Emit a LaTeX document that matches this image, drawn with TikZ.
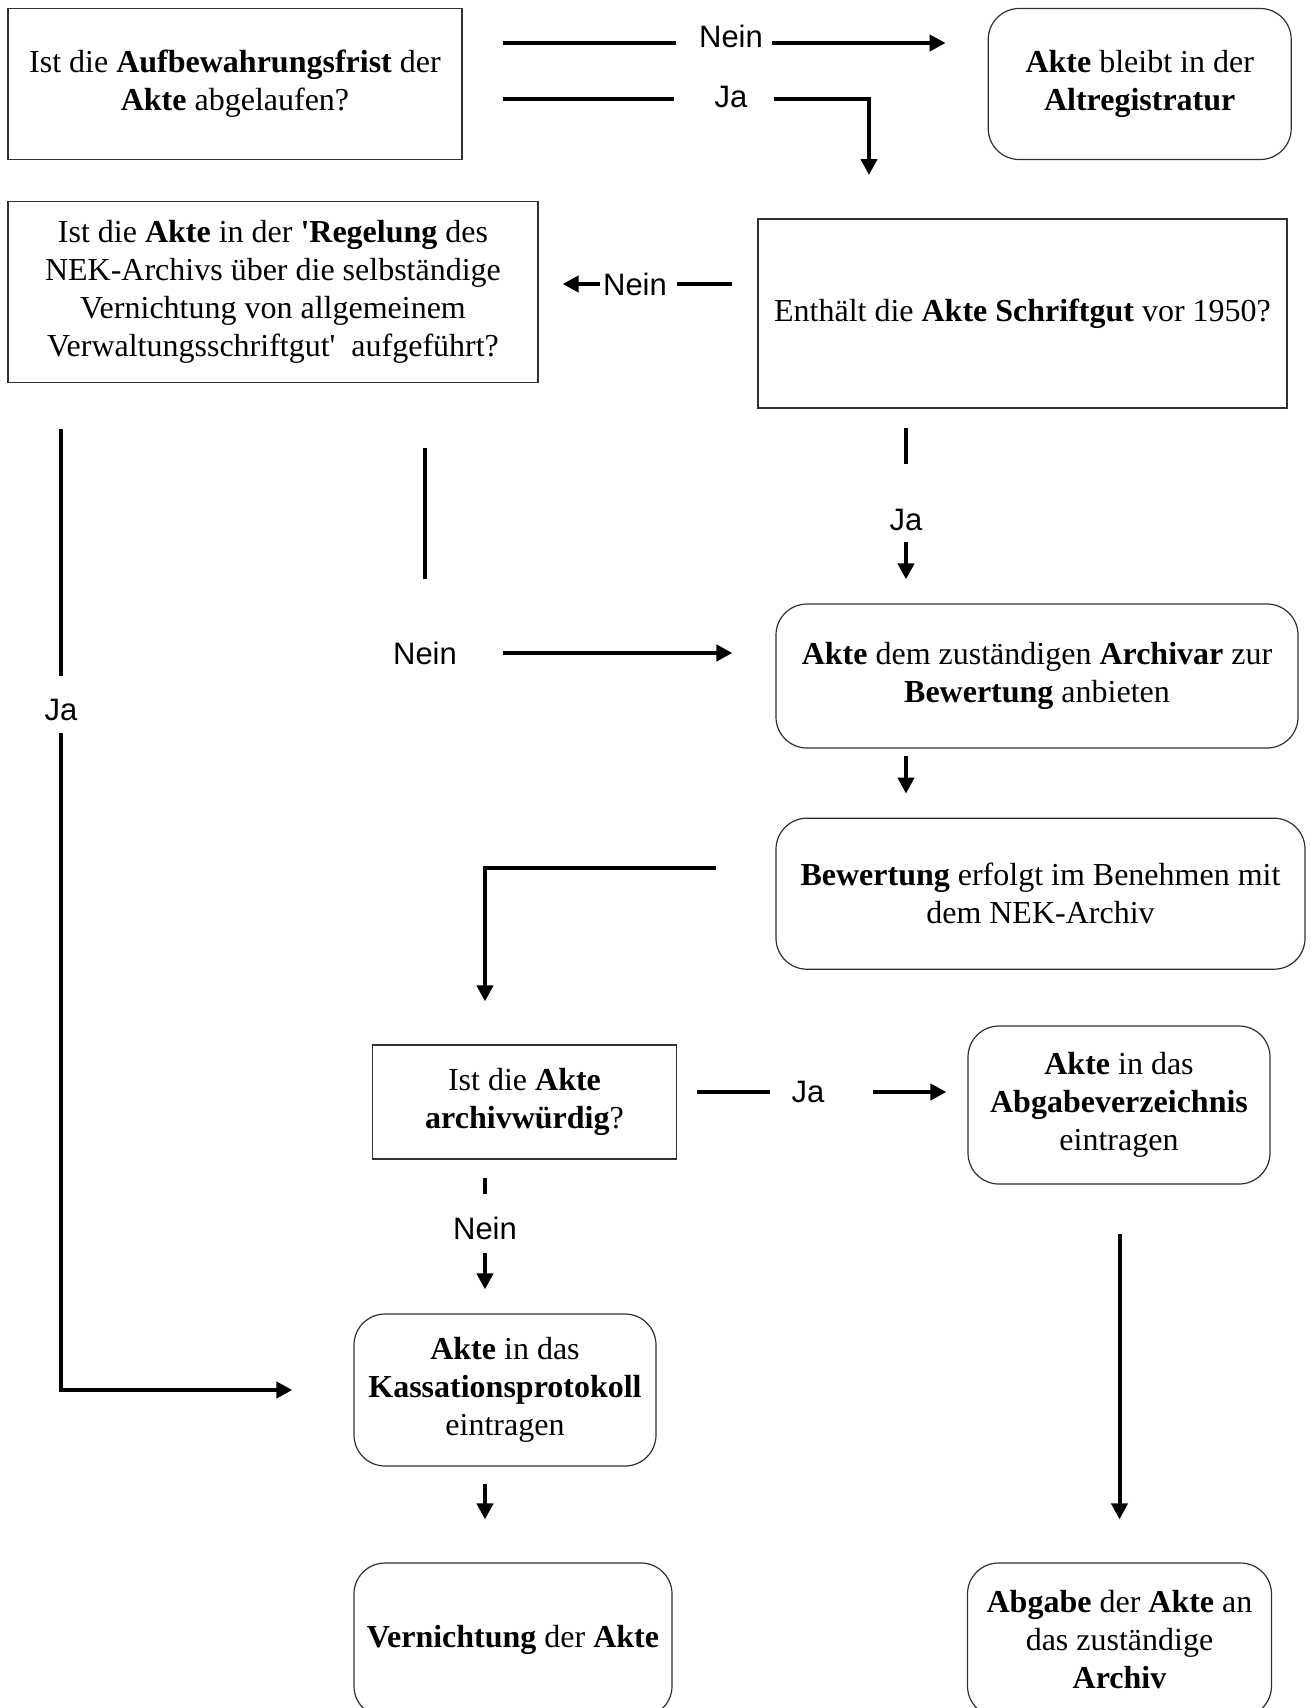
\documentclass[tikz,border=0pt]{standalone}
\usepackage{fontspec}
\setmainfont{Liberation Serif}
\setsansfont{Liberation Sans}
\usepackage{tikz}
\usetikzlibrary{arrows.meta,positioning}
\definecolor{cInk}{HTML}{000000}
\definecolor{cEdge}{HTML}{303030}
\tikzset{
  box/.style  = {draw=cEdge, line width=1.2pt, align=center, inner sep=0pt,
                 font=\fontsize{32}{38}\selectfont},
  ask/.style  = {box},
  act/.style  = {box, rounded corners=31pt},
  yn/.style   = {font=\sffamily\fontsize{31}{36}\selectfont, inner sep=0pt},
  wire/.style = {draw=cInk, line width=4pt},
  flow/.style = {wire, -{Triangle[length=16pt,width=16pt]}},
}

\begin{document}
\begin{tikzpicture}[x=1pt, y=-1pt]
  \path[use as bounding box, fill=white] (0,0) rectangle (1313,1708);
  \clip (0,0) rectangle (1313,1708);
  % ---- top row ----
  \node[ask, minimum width=454pt, minimum height=151pt] (q1) at (235,84)
    {Ist die \textbf{Aufbewahrungsfrist} der\\ \textbf{Akte} abgelaufen?};
  \node[act, right=525pt of q1, minimum width=303pt, minimum height=151pt] (alt)
    {\textbf{Akte} bleibt in der\\ \textbf{Altregistratur}};
  \node[yn] (nein1) at (731,36) {Nein};
  \node[yn] (ja1) at (731,96.5) {Ja};
  \coordinate (c1) at (503,43);
  \coordinate (c2) at (503,99);
  \coordinate (c3) at (869,175);
  \draw[wire, shorten >=23pt] (c1) -- (c1 -| nein1.west);
  \draw[flow, shorten <=9pt, shorten >=42pt] (nein1.east |- c1) -- (alt.west |- c1);
  \draw[wire, shorten >=40pt] (c2) -- (c2 -| ja1.west);
  \draw[flow, shorten <=26pt] (ja1.east |- c2) -| (c3);
  % ---- second row ----
  \node[ask, below=41pt of q1.south west, anchor=north west,
        minimum width=530pt, minimum height=181pt] (q2)
    {Ist die \textbf{Akte} in der \textbf{\textquotesingle Regelung} des\\
     NEK-Archivs über die selbständige\\ Vernichtung von allgemeinem\\
     Verwaltungsschriftgut\textquotesingle\ \ aufgeführt?};
  \node[ask, minimum width=529pt, minimum height=189pt] (q3) at (1022.5,313.5)
    {Enthält die \textbf{Akte Schriftgut} vor 1950?};
  \node[yn] (nein2) at (635,284) {Nein};
  \draw[wire, shorten <=25pt, shorten >=10pt] (q3.west |- nein2) -- (nein2.east);
  \draw[flow, shorten <=3pt, shorten >=24pt] (nein2.west) -- (q2.east |- nein2);
  % ---- right column ----
  \node[act, minimum width=522pt, minimum height=144pt] (arch) at (1037,676)
    {\textbf{Akte} dem zuständigen \textbf{Archivar} zur\\ \textbf{Bewertung} anbieten};
  \node[act, below=69pt of arch.south west, anchor=north west,
        minimum width=529pt, minimum height=151pt] (bew)
    {\textbf{Bewertung} erfolgt im Benehmen mit\\ dem NEK-Archiv};
  \node[yn] (ja3) at (906,520) {Ja};
  \draw[wire, shorten <=19pt, shorten >=45pt] (q3.south -| ja3) -- (ja3.north);
  \draw[flow, shorten <=11pt, shorten >=24pt] (ja3.south) -- (arch.north -| ja3);
  \draw[flow, shorten <=7pt, shorten >=24pt] (arch.south -| ja3) -- (bew.north -| ja3);
  % ---- left branches ----
  \node[yn] (ja2) at (61,710) {Ja};
  \node[yn] (nein3) at (425,653) {Nein};
  \draw[wire, shorten <=65pt, shorten >=62pt] (q2.south -| nein3) -- (nein3.north);
  \draw[flow, shorten <=46pt, shorten >=43pt] (nein3.east) -- (arch.west |- nein3);
  % ---- lower part ----
  \node[ask, minimum width=304pt, minimum height=114pt] (q4) at (524.5,1102)
    {Ist die \textbf{Akte}\\ \textbf{archivwürdig}?};
  \node[act, minimum width=302pt, minimum height=158pt] (abgv) at (1119,1105)
    {\textbf{Akte} in das\\ \textbf{Abgabeverzeichnis}\\ eintragen};
  \node[act, minimum width=302pt, minimum height=152pt] (kass) at (505,1390)
    {\textbf{Akte} in das\\ \textbf{Kassationsprotokoll}\\ eintragen};
  \node[act, minimum width=318pt, minimum height=154pt] (vern) at (513,1640)
    {\textbf{Vernichtung} der \textbf{Akte}};
  \node[act, minimum width=304pt, minimum height=154pt] (abg) at (1119.5,1640)
    {\textbf{Abgabe} der \textbf{Akte} an\\ das zuständige\\ \textbf{Archiv}};
  \node[yn] (ja4) at (808,1092) {Ja};
  \node[yn] (nein4) at (485,1228) {Nein};
  \coordinate (c4) at (716,868);
  \draw[flow, shorten >=43pt] (c4) -| (q4.north -| nein4);
  \draw[wire, shorten <=20pt, shorten >=21pt] (q4.east |- ja4) -- (ja4.west);
  \draw[flow, shorten <=48pt, shorten >=21pt] (ja4.east) -- (abgv.west |- ja4);
  \draw[wire, shorten <=18pt, shorten >=22pt] (q4.south -| nein4) -- (nein4.north);
  \draw[flow, shorten <=13pt, shorten >=24pt] (nein4.south) -- (kass.north -| nein4);
  \draw[flow, shorten <=17pt, shorten >=43pt] (kass.south -| nein4) -- (vern.north -| nein4);
  \draw[flow, shorten <=49pt, shorten >=43pt] (abgv.south -| abg) -- (abg.north);
  % the long Ja branch down the left side
  \draw[wire, shorten <=46pt, shorten >=23pt] (q2.south -| ja2) -- (ja2.north);
  \draw[flow, shorten <=12pt, shorten >=61pt] (ja2.south) |- (kass.west);
\end{tikzpicture}
\end{document}
